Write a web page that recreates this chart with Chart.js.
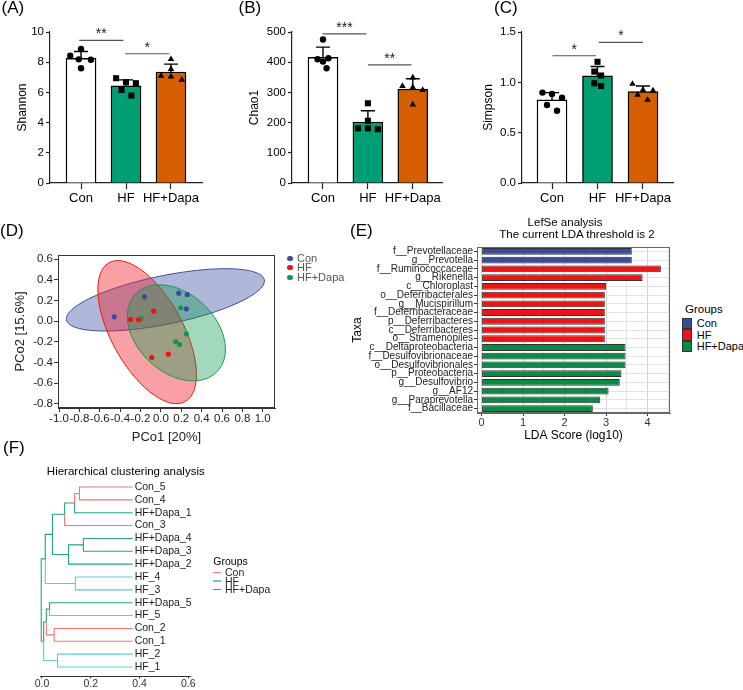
<!DOCTYPE html>
<html>
<head>
<meta charset="utf-8">
<title>Gut microbiota diversity</title>
<script src="https://cdn.jsdelivr.net/npm/chart.js@4.4.1/dist/chart.umd.min.js"></script>
<style>
  html, body { margin: 0; padding: 0; background: #fff; }
  body { position: relative; width: 743px; height: 690px; overflow: hidden;
         font-family: 'Liberation Sans', Arial, sans-serif; color: #000; }
  canvas { position: absolute; }
  .t { position: absolute; white-space: nowrap; }
  .sw { position: absolute; box-sizing: border-box; }
</style>
</head>
<body>
<canvas id="chartA" width="240" height="215" style="left:0;top:0"></canvas>
<canvas id="chartB" width="240" height="215" style="left:240px;top:0"></canvas>
<canvas id="chartC" width="263" height="215" style="left:480px;top:0"></canvas>
<canvas id="chartD" width="345" height="225" style="left:0;top:225px"></canvas>
<canvas id="chartE" width="330" height="205" style="left:345px;top:240px"></canvas>
<canvas id="chartF" width="330" height="230" style="left:0;top:460px"></canvas>
<script>
// ── Data ──────────────────────────────────────────────────────────────────────
const groups = ['Con', 'HF', 'HF+Dapa'];

// (A) Shannon
const shannonMean = [8.25, 6.43, 7.35];
const shannonSD   = [0.46, 0.40, 0.52];
const shannonPts  = [
  [8.43, 8.87, 8.19, 8.16, 7.60],
  [6.94, 6.16, 6.67, 6.61, 5.79],
  [8.20, 7.10, 7.55, 7.05, 6.83],
];
const shannonSpread = [
  [-0.24, 0.00, -0.05, 0.22, 0.00],
  [-0.22, -0.10, 0.00, 0.22, 0.12],
  [0.00, -0.22, 0.00, 0.00, 0.24],
];
const shannonTicks = [0, 2, 4, 6, 8, 10];
const shannonSig = [[-0.04, 0.94, 9.45, '**'], [0.98, 1.96, 8.56, '*']];

// (B) Chao1
const chaoMean = [416, 202, 311];
const chaoSD   = [34, 37, 34];
const chaoPts  = [
  [475, 410, 413, 402, 380],
  [264, 206, 181, 181, 178],
  [349, 321, 317, 308, 260],
];
const chaoSpread = [
  [0.00, -0.12, 0.12, 0.00, 0.08],
  [0.00, 0.00, -0.22, 0.00, 0.22],
  [0.00, -0.23, 0.00, 0.22, 0.00],
];
const chaoTicks = [0, 100, 200, 300, 400, 500];
const chaoSig = [[-0.01, 0.97, 494, '***'], [1.00, 1.97, 391, '**']];

// (C) Simpson
const simpsonMean = [0.825, 1.064, 0.908];
const simpsonSD   = [0.073, 0.093, 0.056];
const simpsonPts  = [
  [0.898, 0.885, 0.848, 0.775, 0.718],
  [1.204, 1.107, 1.068, 0.991, 0.964],
  [0.984, 0.925, 0.918, 0.875, 0.825],
];
const simpsonSpread = [
  [-0.21, 0.00, 0.22, -0.11, 0.11],
  [0.00, -0.07, 0.08, -0.07, 0.08],
  [-0.23, 0.00, 0.22, -0.12, 0.10],
];
const simpsonTicks = [0, 0.5, 1.0, 1.5];
const simpsonSig = [[0.01, 0.97, 1.264, '*'], [1.03, 2.00, 1.397, '*']];

// (D) PCoA
const pcoPoints = [
  [[-0.458, 0.042], [-0.161, 0.235], [0.175, 0.271], [0.259, 0.258], [0.250, 0.119]],
  [[-0.299, 0.016], [-0.220, 0.013], [-0.070, 0.097], [0.073, -0.319], [-0.090, -0.352]],
  [[-0.194, 0.026], [0.194, 0.129], [0.250, -0.123], [0.145, -0.197], [0.184, -0.226]],
];
const ellCenter = [[0.044, 0.206], [-0.135, -0.106], [0.152, -0.113]];
const ellAxes   = [[0.99, 0.235], [0.768, 0.351], [0.548, 0.383]];
const ellAngle  = [11.3, -60.8, -42];
const pcoTicksX = [-1.0, -0.8, -0.6, -0.4, -0.2, 0.0, 0.2, 0.4, 0.6, 0.8, 1.0];
const pcoTicksY = [-0.8, -0.6, -0.4, -0.2, 0.0, 0.2, 0.4, 0.6];

// (E) LEfSe
const taxa = [
  'f__Prevotellaceae', 'g__Prevotella', 'f__Ruminococcaceae', 'g__Rikenella',
  'c__Chloroplast', 'o__Deferribacterales', 'g__Mucispirillum', 'f__Deferribacteraceae',
  'p__Deferribacteres', 'c__Deferribacteres', 'o__Stramenopiles', 'c__Deltaproteobacteria',
  'f__Desulfovibrionaceae', 'o__Desulfovibrionales', 'p__Proteobacteria', 'g__Desulfovibrio',
  'g__AF12', 'g__Paraprevotella', 'f__Bacillaceae',
];
const ldaScore  = [3.62, 3.62, 4.32, 3.88, 3.00, 2.97, 2.97, 2.97, 2.97, 2.97, 2.97,
                   3.47, 3.47, 3.47, 3.37, 3.33, 3.06, 2.86, 2.68];
const taxaGroup = [0, 0, 1, 1, 1, 1, 1, 1, 1, 1, 1, 2, 2, 2, 2, 2, 2, 2, 2];
const ldaTicks  = [0, 0.5, 1, 1.5, 2, 2.5, 3, 3.5, 4, 4.5];

// (F) Hierarchical clustering (merge rows like R hclust: negative = leaf, positive = earlier row)
const leaves = ['Con_5', 'Con_4', 'HF+Dapa_1', 'Con_3', 'HF+Dapa_4', 'HF+Dapa_3', 'HF+Dapa_2',
                'HF_4', 'HF_3', 'HF+Dapa_5', 'HF_5', 'Con_2', 'Con_1', 'HF_2', 'HF_1'];
const leafHeight  = 0.372;
const mergeA      = [-1, 1, 2, -5, 4, 3, -8, 6, -10, -12, 9, -14, 11, 8];
const mergeB      = [-2, -3, -4, -6, -7, 5, -9, 7, -11, -13, 10, -15, 12, 13];
const mergeHeight = [0.154, 0.134, 0.093, 0.170, 0.109, 0.043, 0.137, 0.0135,
                     0.031, 0.050, 0.018, 0.064, 0.007, -0.003];
const treeTicks = [0, 0.2, 0.4, 0.6];

// ── Styles ────────────────────────────────────────────────────────────────────
const FONT = "'Liberation Sans', Arial, sans-serif";
const barColors   = ['#ffffff', '#009e73', '#d55e00'];
const markerStyle = ['circle', 'rect', 'triangle'];
const markerSize  = [3.2, 4.3, 3.8];
const pcoColors   = ['#3a4ba0', '#ee1313', '#14994b'];
const ellFill     = ['rgba(59,75,160,0.40)', 'rgba(238,28,37,0.42)', 'rgba(10,154,80,0.38)'];
const ldaColors   = ['#394b9c', '#ee1414', '#0a8a45'];
const treeColors  = { 'Con': '#f3756b', 'HF': '#62c6dc', 'HF+Dapa': '#23a485', mix: '#23a485' };

Chart.defaults.font.family = FONT;
Chart.defaults.color = '#000';
Chart.defaults.animation = false;
Chart.defaults.plugins.legend.display = false;
Chart.defaults.plugins.tooltip.enabled = false;

// ── Plugins ───────────────────────────────────────────────────────────────────
const errorBars = {
  id: 'errorBars',
  afterDatasetDraw(chart, args, opts) {
    if (args.meta.type !== 'bar') return;
    const { ctx, scales: { x, y } } = chart;
    ctx.save();
    ctx.strokeStyle = '#000';
    ctx.lineWidth = 1.4;
    opts.mean.forEach((m, i) => {
      const px = x.getPixelForValue(i);
      const top = y.getPixelForValue(m + opts.sd[i]);
      ctx.beginPath();
      ctx.moveTo(px, y.getPixelForValue(m));
      ctx.lineTo(px, top);
      ctx.moveTo(px - 7, top);
      ctx.lineTo(px + 7, top);
      ctx.stroke();
    });
    ctx.restore();
  },
};

const sigBars = {
  id: 'sig',
  afterDatasetsDraw(chart, args, opts) {
    const { ctx, scales: { x, y } } = chart;
    ctx.save();
    ctx.strokeStyle = '#555';
    ctx.lineWidth = 1.2;
    ctx.fillStyle = '#222';
    ctx.font = `14px ${FONT}`;
    ctx.textAlign = 'center';
    ctx.textBaseline = 'alphabetic';
    opts.marks.forEach(([a, b, v, txt]) => {
      const py = y.getPixelForValue(v);
      const x1 = x.getPixelForValue(a), x2 = x.getPixelForValue(b);
      ctx.beginPath();
      ctx.moveTo(x1, py);
      ctx.lineTo(x2, py);
      ctx.stroke();
      ctx.fillText(txt, (x1 + x2) / 2, py - 2);
    });
    ctx.restore();
  },
};

const ellipses = {
  id: 'ellipses',
  beforeDatasetsDraw(chart, args, opts) {
    const { ctx, scales: { x, y } } = chart;
    ctx.save();
    opts.center.forEach(([cx, cy], i) => {
      const [a, b] = opts.axes[i];
      const th = opts.angle[i] * Math.PI / 180;
      ctx.beginPath();
      for (let k = 0; k <= 120; k++) {
        const t = k / 120 * 2 * Math.PI;
        const dx = a * Math.cos(t), dy = b * Math.sin(t);
        const px = x.getPixelForValue(cx + dx * Math.cos(th) - dy * Math.sin(th));
        const py = y.getPixelForValue(cy + dx * Math.sin(th) + dy * Math.cos(th));
        k ? ctx.lineTo(px, py) : ctx.moveTo(px, py);
      }
      ctx.closePath();
      ctx.fillStyle = opts.fill[i];
      ctx.fill();
      ctx.strokeStyle = opts.stroke[i];
      ctx.lineWidth = 1;
      ctx.stroke();
    });
    ctx.restore();
  },
};

const frame = {
  id: 'frame',
  afterDatasetsDraw(chart, args, opts) {
    const { ctx, chartArea: { left, top, width, height } } = chart;
    ctx.save();
    ctx.strokeStyle = opts.color || '#222';
    ctx.lineWidth = 1;
    ctx.strokeRect(left + 0.5, top + 0.5, width - 1, height - 1);
    ctx.restore();
  },
};

const leafLabels = {
  id: 'leafLabels',
  afterDatasetsDraw(chart, args, opts) {
    const { ctx, scales: { x, y } } = chart;
    ctx.save();
    ctx.font = `10.5px ${FONT}`;
    ctx.fillStyle = '#222';
    ctx.textBaseline = 'middle';
    const px = x.getPixelForValue(opts.at) + 2;
    opts.labels.forEach((name, i) => ctx.fillText(name, px, y.getPixelForValue(i)));
    ctx.restore();
  },
};

const fixedTicks = values => axis => { axis.ticks = values.map(value => ({ value })); };

// ── (A)(B)(C) bar + dot panels ────────────────────────────────────────────────
function barPanel(id, mean, sd, pts, spread, sig, ticks, yTitle, fmt, box) {
  return new Chart(document.getElementById(id), {
    type: 'bar',
    data: {
      datasets: [
        {
          type: 'bar',
          data: mean.map((m, i) => ({ x: i, y: m })),
          backgroundColor: barColors,
          borderColor: '#000',
          borderWidth: 1.4,
          barThickness: 30,
          order: 2,
        },
        ...groups.map((g, i) => ({
          type: 'scatter',
          data: pts[i].map((v, k) => ({ x: i + spread[i][k], y: v })),
          pointStyle: markerStyle[i],
          pointRadius: markerSize[i],
          backgroundColor: '#000',
          borderWidth: 0,
          order: 1,
        })),
      ],
    },
    options: {
      responsive: false,
      layout: { padding: { left: box.padLeft, right: box.padRight, top: 32, bottom: 0 } },
      plugins: { errorBars: { mean, sd }, sig: { marks: sig } },
      scales: {
        x: {
          type: 'linear', offset: false, min: box.xMin, max: box.xMax,
          afterBuildTicks: fixedTicks([0, 1, 2]),
          afterFit: s => { s.height = 32; },
          grid: { offset: false, drawOnChartArea: false, tickLength: 6, tickColor: '#222', tickWidth: 1.2 },
          border: { color: '#222', width: 1.2 },
          ticks: { padding: 2, font: { size: 13 }, autoSkip: false, maxRotation: 0, callback: v => groups[v] },
        },
        y: {
          min: 0, max: ticks[ticks.length - 1],
          afterBuildTicks: fixedTicks(ticks),
          afterFit: s => { s.width = box.yWidth; },
          grid: { drawOnChartArea: false, tickLength: 4, tickColor: '#222', tickWidth: 1.2 },
          border: { color: '#222', width: 1.2 },
          ticks: { padding: 2, font: { size: 11.5 }, autoSkip: false, callback: fmt },
          title: { display: true, text: yTitle, font: { size: 12 }, padding: { top: box.titlePad, bottom: 2 } },
        },
      },
    },
    plugins: [errorBars, sigBars],
  });
}

barPanel('chartA', shannonMean, shannonSD, shannonPts, shannonSpread, shannonSig, shannonTicks,
  'Shannon', v => String(v), { padLeft: 13, yWidth: 37, padRight: 38, xMin: -0.69, xMax: 2.69, titlePad: 2 });
barPanel('chartB', chaoMean, chaoSD, chaoPts, chaoSpread, chaoSig, chaoTicks,
  'Chao1', v => String(v), { padLeft: 5, yWidth: 47, padRight: 38, xMin: -0.69, xMax: 2.65, titlePad: 2 });
barPanel('chartC', simpsonMean, simpsonSD, simpsonPts, simpsonSpread, simpsonSig, simpsonTicks,
  'Simpson', v => v.toFixed(1), { padLeft: 0, yWidth: 42, padRight: 70, xMin: -0.66, xMax: 2.66, titlePad: 1 });

// ── (D) PCoA ──────────────────────────────────────────────────────────────────
new Chart(document.getElementById('chartD'), {
  type: 'scatter',
  data: {
    datasets: groups.map((g, i) => ({
      label: g,
      data: pcoPoints[i].map(([x, y]) => ({ x, y })),
      backgroundColor: pcoColors[i],
      pointRadius: 2.6,
      pointBorderWidth: 0,
    })),
  },
  options: {
    responsive: false,
    layout: { padding: { left: 11, right: 70, top: 30, bottom: 3 } },
    plugins: {
      ellipses: { center: ellCenter, axes: ellAxes, angle: ellAngle, fill: ellFill, stroke: pcoColors },
      frame: { color: '#333' },
    },
    scales: {
      x: {
        min: -1.01, max: 1.12,
        afterBuildTicks: fixedTicks(pcoTicksX),
        afterFit: s => { s.height = 39; },
        grid: { drawOnChartArea: false, tickLength: 4, tickColor: '#333' },
        border: { color: '#333' },
        ticks: { padding: 0, font: { size: 11.5 }, color: '#222', autoSkip: false, maxRotation: 0, callback: v => v.toFixed(1) },
        title: { display: true, text: 'PCo1 [20%]', font: { size: 13 }, color: '#222', padding: { top: 2, bottom: 2 } },
      },
      y: {
        min: -0.84, max: 0.64,
        afterBuildTicks: fixedTicks(pcoTicksY),
        afterFit: s => { s.width = 47; },
        grid: { drawOnChartArea: false, tickLength: 4, tickColor: '#333' },
        border: { color: '#333' },
        ticks: { padding: 1, font: { size: 11.5 }, color: '#222', autoSkip: false, callback: v => v.toFixed(1) },
        title: { display: true, text: 'PCo2 [15.6%]', font: { size: 13 }, color: '#222', padding: { top: 2, bottom: 2 } },
      },
    },
  },
  plugins: [ellipses, frame],
});

// ── (E) LEfSe ─────────────────────────────────────────────────────────────────
new Chart(document.getElementById('chartE'), {
  type: 'bar',
  data: {
    labels: taxa,
    datasets: [{
      data: ldaScore,
      backgroundColor: taxaGroup.map(g => ldaColors[g]),
      borderColor: '#333',
      borderWidth: 1,
      borderSkipped: false,
      barPercentage: 0.78,
      categoryPercentage: 1,
    }],
  },
  options: {
    indexAxis: 'y',
    responsive: false,
    layout: { padding: { left: 3, right: 5, top: 7, bottom: 0 } },
    plugins: { frame: { color: '#666' } },
    scales: {
      x: {
        min: -0.11, max: 4.54,
        afterBuildTicks: fixedTicks(ldaTicks),
        afterFit: s => { s.height = 32; },
        grid: {
          color: c => (c.tick && c.tick.value % 1 === 0) ? '#d2d2d2' : '#e6e6e6',
          tickLength: 3,
          tickColor: c => (c.tick && c.tick.value % 1 === 0) ? '#333' : 'rgba(0,0,0,0)',
        },
        border: { color: '#666' },
        ticks: { padding: 0, font: { size: 11 }, color: '#333', autoSkip: false, maxRotation: 0,
                 callback: v => Number.isInteger(v) ? String(v) : '' },
        title: { display: true, text: 'LDA Score (log10)', font: { size: 12 }, padding: { top: 2, bottom: 2 } },
      },
      y: {
        afterFit: s => { s.width = 129; },
        grid: { offset: false, color: '#e2e2e2', tickLength: 3, tickColor: '#333' },
        border: { color: '#666' },
        ticks: { padding: 1, font: { size: 10 }, color: '#222', autoSkip: false },
        title: { display: true, text: 'Taxa', font: { size: 12 }, padding: { top: 2, bottom: 2 } },
      },
    },
  },
  plugins: [frame],
});

// ── (F) Dendrogram ────────────────────────────────────────────────────────────
const leafGroup = leaves.map(n => n.replace(/_\d+$/, ''));
const treeNodes = [];
const treeEdges = [];
const nodeRef = r => r < 0
  ? { x: leafHeight, y: -r - 1, group: leafGroup[-r - 1] }
  : treeNodes[r - 1];
mergeA.forEach((a, i) => {
  const A = nodeRef(a), B = nodeRef(mergeB[i]);
  const node = { x: mergeHeight[i], y: (A.y + B.y) / 2, group: A.group === B.group ? A.group : 'mix' };
  treeNodes.push(node);
  treeEdges.push([node, A], [node, B]);
});

new Chart(document.getElementById('chartF'), {
  type: 'scatter',
  data: {
    datasets: treeEdges.map(([p, c]) => ({
      data: [{ x: p.x, y: p.y }, { x: p.x, y: c.y }, { x: c.x, y: c.y }],
      showLine: true,
      borderColor: treeColors[c.group],
      borderWidth: 1.1,
      pointRadius: 0,
      tension: 0,
    })),
  },
  options: {
    responsive: false,
    layout: { padding: { left: 40, right: 140, top: 18, bottom: 0 } },
    plugins: { leafLabels: { labels: leaves, at: leafHeight } },
    scales: {
      x: {
        min: -0.008, max: 0.607,
        afterBuildTicks: fixedTicks(treeTicks),
        afterFit: s => { s.height = 14; },
        grid: { drawOnChartArea: false, tickLength: 2.5, tickColor: '#333' },
        border: { color: '#333' },
        ticks: { padding: 0, font: { size: 10.5, lineHeight: 1 }, color: '#333', autoSkip: false, maxRotation: 0,
                 callback: v => v.toFixed(1) },
      },
      y: { display: false, reverse: true, min: -0.7, max: 14.7 },
    },
  },
  plugins: [leafLabels],
});

// ── Panel letters, titles and legends ─────────────────────────────────────────
function addText(x, cy, text, size, color = '#000', center = false) {
  const d = document.createElement('div');
  d.className = 't';
  d.textContent = text;
  d.style.cssText += `left:${x}px;top:${cy - size / 2}px;font-size:${size}px;line-height:${size}px;color:${color};`
    + (center ? 'transform:translateX(-50%);' : '');
  document.body.appendChild(d);
}
function addSwatch(x, y, w, h, css) {
  const d = document.createElement('div');
  d.className = 'sw';
  d.style.cssText += `left:${x}px;top:${y}px;width:${w}px;height:${h}px;${css}`;
  document.body.appendChild(d);
}

[['(A)', 1.5, 7.8], ['(B)', 238.5, 7.8], ['(C)', 494, 7.8],
 ['(D)', 0, 230.5], ['(E)', 350, 230.5], ['(F)', 3, 447.8]]
  .forEach(([t, x, y]) => addText(x, y, t, 17));

addText(565, 223, 'LefSe analysis', 11.5, '#000', true);
addText(577, 235, 'The current LDA threshold is 2', 11.5, '#000', true);
addText(125.8, 471.7, 'Hierarchical clustering analysis', 11.5, '#000', true);

// (D) legend
[258.3, 267.8, 277.3].forEach((cy, i) => {
  addSwatch(287.4, cy - 2.6, 5.2, 5.2, `border-radius:50%;background:${pcoColors[i]};`);
  addText(297, cy, groups[i], 11, '#555');
});

// (E) legend
addText(685, 310, 'Groups', 11.5);
[318, 329.3, 340.6].forEach((top, i) => {
  addSwatch(681.7, top, 10.8, 11.3, `background:${ldaColors[i]};border:1px solid #333;`);
  addText(696.7, top + 5.7, groups[i], 11);
});

// (F) legend
addText(213.3, 561, 'Groups', 10.5);
[572.4, 581, 589.6].forEach((cy, i) => {
  addSwatch(213, cy - 0.6, 7.5, 1.2, `background:${treeColors[groups[i]]};`);
  addText(225, cy, groups[i], 10.5, '#222');
});
</script>
</body>
</html>
